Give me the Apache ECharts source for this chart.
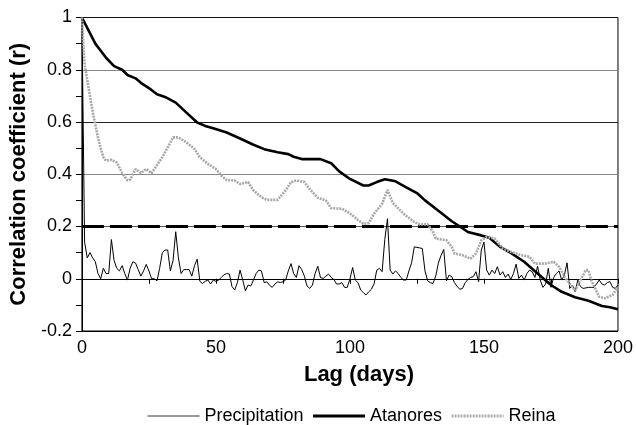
<!DOCTYPE html>
<html>
<head>
<meta charset="utf-8">
<script src="https://cdn.jsdelivr.net/npm/echarts@6/dist/echarts.min.js"></script>
<style>
  html, body { margin: 0; padding: 0; background: #fff; }
  #chart { width: 636px; height: 425px; }
</style>
</head>
<body>
<div id="chart"></div>
<script>
// precipitation: one value per lag day, 0..200
let precipitation = [
  1.0, 0.14, 0.08, 0.10, 0.08, 0.065, 0.02, 0.0, 0.04, 0.02,
  0.02, 0.15, 0.07, 0.04, 0.03, 0.05, 0.02, -0.005, 0.04, 0.065,
  0.06, 0.035, 0.01, 0.03, 0.055, 0.03, 0.0, 0.0, -0.008, 0.04,
  0.10, 0.11, 0.11, 0.03, 0.07, 0.18, 0.08, 0.02, 0.035, 0.035,
  0.035, 0.01, 0.05, 0.075, -0.01, -0.018, -0.01, -0.005, -0.02, -0.005,
  -0.01, -0.005, 0.005, 0.015, 0.02, 0.018, -0.03, -0.043, -0.015, 0.033,
  -0.005, -0.046, -0.024, -0.028, -0.005, 0.02, 0.033, 0.03, -0.015, -0.012,
  -0.025, -0.033, -0.02, -0.012, -0.014, -0.012, -0.005, 0.03, 0.058, 0.02,
  0.005, 0.05, 0.035, 0.01, -0.028, -0.037, -0.024, 0.02, 0.048, 0.005,
  0.001, 0.01, 0.018, 0.005, -0.003, -0.02, -0.02, -0.015, -0.033, -0.033,
  0.0, 0.043, -0.005, -0.015, -0.043, -0.053, -0.062, -0.05, -0.04, -0.02,
  0.033, 0.04, 0.027, 0.15, 0.23, 0.033, 0.018, 0.03, 0.02, 0.005,
  -0.005, -0.005, 0.03, 0.061, 0.122, 0.12, 0.118, 0.116, 0.03, -0.008,
  -0.015, -0.018, 0.01, 0.06, 0.09, 0.112, -0.008, 0.014, 0.008, -0.015,
  -0.03, -0.04, -0.037, -0.015, -0.003, 0.005, 0.008, 0.027, -0.011, 0.11,
  0.14, 0.033, 0.014, 0.033, 0.02, 0.046, 0.014, 0.027, 0.005, 0.018,
  -0.003, 0.02, 0.056, 0.001, 0.014, -0.005, 0.02, 0.033, 0.027, 0.005,
  0.048, -0.005, -0.033, -0.02, 0.04, -0.033, 0.005, 0.02, 0.03, -0.005,
  0.014, 0.061, -0.037, -0.024, -0.05, -0.005, -0.03, -0.037, -0.035, -0.033,
  -0.033, -0.033, -0.02, -0.005, -0.02, -0.024, -0.015, -0.011, -0.033, -0.037,
  -0.024
]

let atanoresLag = [0, 3, 5, 9, 12, 15, 17, 20, 22, 25, 28, 31, 35, 39, 43, 46, 49, 54, 59, 64,
  68, 73, 77, 79, 82, 89, 93, 96, 100, 105, 107, 110, 113, 117, 121, 125, 128, 133, 138, 141,
  144, 149, 152, 156, 160, 165, 170, 175, 179, 184, 189, 194, 197, 200]
let atanoresR = [1.0, 0.94, 0.90, 0.846, 0.814, 0.80, 0.78, 0.767, 0.75, 0.73, 0.706, 0.696, 0.674, 0.636, 0.598, 0.585, 0.576, 0.56, 0.537, 0.513,
  0.496, 0.484, 0.477, 0.467, 0.458, 0.458, 0.442, 0.411, 0.382, 0.357, 0.357, 0.37, 0.381, 0.373, 0.35, 0.328, 0.30, 0.26, 0.22, 0.20,
  0.179, 0.166, 0.157, 0.122, 0.099, 0.065, 0.02, -0.024, -0.05, -0.071, -0.084, -0.104, -0.109, -0.117]

let reinaLag = [0, 1, 3, 4, 6, 7, 8, 9, 11, 13, 15, 17, 18, 20, 22, 24, 26, 27, 30, 32,
  34, 36, 39, 42, 44, 47, 50, 52, 54, 57, 59, 62, 64, 67, 69, 73, 76, 78, 80, 83,
  85, 88, 91, 93, 97, 100, 103, 105, 107, 109, 112, 114, 116, 120, 124, 126, 129, 131, 132, 136,
  138, 139, 142, 145, 147, 149, 151, 154, 157, 160, 164, 167, 169, 173, 176, 178, 180, 182, 184, 186,
  188, 189, 190, 193, 195, 198, 200]
let reinaR = [1.0, 0.82, 0.70, 0.64, 0.54, 0.50, 0.465, 0.452, 0.455, 0.445, 0.405, 0.376, 0.38, 0.42, 0.405, 0.42, 0.404, 0.42, 0.465, 0.503,
  0.541, 0.541, 0.522, 0.497, 0.465, 0.44, 0.42, 0.395, 0.378, 0.376, 0.363, 0.37, 0.338, 0.312, 0.302, 0.302, 0.338, 0.37, 0.376, 0.37,
  0.343, 0.31, 0.30, 0.27, 0.268, 0.25, 0.225, 0.21, 0.213, 0.249, 0.287, 0.34, 0.29, 0.249, 0.217, 0.208, 0.208, 0.179, 0.154, 0.147,
  0.122, 0.097, 0.09, 0.077, 0.097, 0.147, 0.16, 0.154, 0.116, 0.103, 0.09, 0.084, 0.058, 0.058, 0.065, 0.046, 0.008, -0.018, -0.046, -0.005,
  0.033, 0.033, -0.005, -0.069, -0.075, -0.062, -0.033]

let thresholdR = 0.2

let font = 'Liberation Sans, Arial, sans-serif'
let mychart = echarts.init(document.getElementById('chart'))

let option = {
  animation: false,
  textStyle: { fontFamily: font },
  grid: {
    left: 80,
    right: 16,
    top: 17.5,
    bottom: 94,
    show: true,
    borderColor: '#000',
    borderWidth: 1,
  },
  legend: {
    left: 142,
    top: 402,
    itemWidth: 52,
    itemHeight: 10,
    itemGap: 8,
    itemStyle: { opacity: 0 }, // hide the symbol, keep the line
    textStyle: { fontSize: 18, color: '#000', fontFamily: font },
    data: [
      { name: 'Precipitation', lineStyle: { width: 1, color: '#333' } },
      { name: 'Atanores', lineStyle: { width: 3, color: '#000' } },
      { name: 'Reina', lineStyle: { width: 3, color: '#b0b0b0' } },
    ],
  },
  xAxis: {
    type: 'value',
    min: 0,
    max: 200,
    interval: 50,
    name: 'Lag (days)',
    nameLocation: 'middle',
    nameGap: 33,
    nameTextStyle: { fontSize: 22, fontWeight: 'bold', color: '#000', fontFamily: font, padding: [0, 0, 0, 18] },
    axisLine: { lineStyle: { color: '#000', width: 1 } },
    axisTick: { show: true, length: 5, lineStyle: { color: '#000' } },
    minorTick: { show: true, splitNumber: 2, length: 5, lineStyle: { color: '#000' } },
    axisLabel: { fontSize: 18, color: '#000', margin: 8 },
    splitLine: { show: false },
  },
  yAxis: {
    type: 'value',
    min: -0.2,
    max: 1,
    interval: 0.2,
    name: 'Correlation coefficient (r)',
    nameLocation: 'middle',
    nameGap: 50,
    nameTextStyle: { fontSize: 22, fontWeight: 'bold', color: '#000', fontFamily: font },
    axisLine: { show: true, lineStyle: { color: '#000', width: 1 } },
    axisTick: { show: true, length: 6, lineStyle: { color: '#000' } },
    minorTick: { show: true, splitNumber: 2, length: 6, lineStyle: { color: '#000' } },
    axisLabel: { fontSize: 18, color: '#000', margin: 10 },
    splitLine: {
      show: true,
      lineStyle: {
        color: ['#000', '#555', '#555', '#888', '#222', '#888', '#111'],
        width: 1,
      },
    },
  },
  series: [
    {
      name: 'Precipitation',
      type: 'line',
      data: precipitation.map((v, i) => [i, v]),
      symbol: 'none',
      color: '#000',
      lineStyle: { color: '#000', width: 1 },
      z: 3,
      markLine: {
        silent: true,
        symbol: 'none',
        label: { show: false },
        lineStyle: { color: '#000', width: 3, type: [22, 6] },
        data: [{ yAxis: thresholdR }],
      },
    },
    {
      name: 'Atanores',
      type: 'line',
      data: atanoresLag.map((x, i) => [x, atanoresR[i]]),
      symbol: 'none',
      color: '#000',
      lineStyle: { color: '#000', width: 2.6 },
      z: 4,
    },
    {
      name: 'Reina',
      type: 'line',
      data: reinaLag.map((x, i) => [x, reinaR[i]]),
      symbol: 'none',
      color: '#aaa',
      lineStyle: { color: '#a8a8a8', width: 2.6, type: [2, 1] },
      z: 5,
    },
  ],
}

mychart.setOption(option)
</script>
</body>
</html>
